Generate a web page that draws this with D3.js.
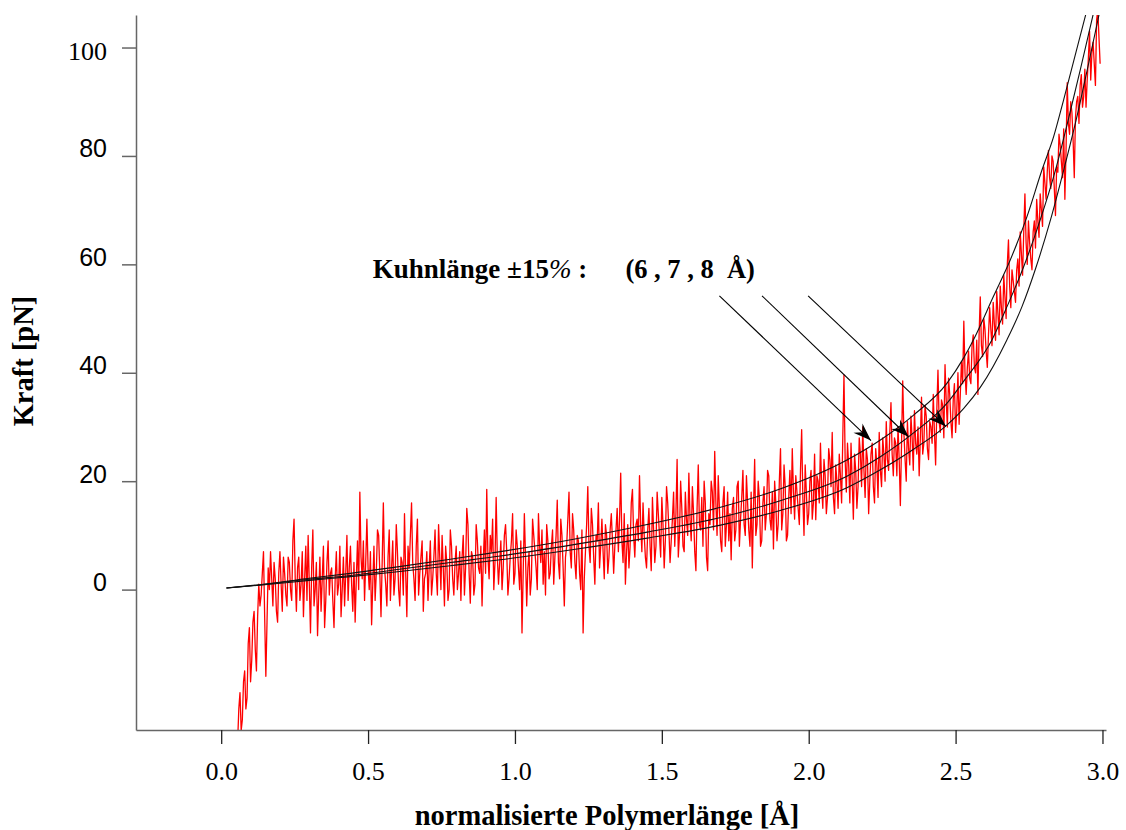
<!DOCTYPE html>
<html>
<head>
<meta charset="utf-8">
<script src="https://cdn.jsdelivr.net/npm/d3@7"></script>
<style>
    body { margin: 0; background: #fff; }
    svg { display: block; }
</style>
</head>
<body>
<svg id="kraft" width="1126" height="830"></svg>
<script>
var xTicks = [0.0, 0.5, 1.0, 1.5, 2.0, 2.5, 3.0];
var yTicks = [0, 20, 40, 60, 80, 100];

// measured trace (red): first sample, sample spacing, force in pN
var traceStart = 0.056;
var traceStep = 0.004;
var traceForce = [
    -28, -22, -19, -26, -24, -17, -15, -22, -20, -10, -7, -17, -13, -6, -4, -11, -15, -5, 1, -3,
    -1, 3, 7, -5, -16, -6, 4, 0, 7, 2, -3, 5, 2, -4, -6, 3, 7, 1, -4, 6,
    3, -1, -3, 6, 5, 0, -2, 9, 13, 2, -4, 4, 6, -2, 1, 7, -5, 2, 8, -2,
    10, 1, -8, 4, 11, -3, 0, 5, -8.5, -1, 6, -4, 2, 8, -7, -2, 5, 9, -1, 3,
    4, -2, -7, 2, 7, -1, 1, 8, -5, 0, 6, -3, 3, 10, -2, 4, 8, 1, -4, 5,
    -6, 2, 9, 0, 18, 6, 2, 9, -2, 5, 13, 4, 0, 7, -6.5, 1, 8, -2, 3, 11,
    10, 3, -5, 5, 16, 4, 1, -3, 6, 11, -2, 4, 9, -1, 2, 12, 7, 0, -3, 6,
    5, -1, 14, 3, -5, 8, 4, 10, 16, 5, 2, -2, 8, 13, -1, 3, 6, 9, -4, 2,
    3, 7, -2, 4, 9, -1, 2, 6, 11, 3, -1, 12, 6, 0, 10, 4, -3, 8, 5, -2,
    0, 11, 8, 2, -1, 5, 8, 0, 3, 7, -2, 6, 10, -1, 4, 15, 12, 3, -2.5, 7,
    6, -1, 1, 12, 9, 4, 3, 8, -3, 5, 11, 3, 18.5, 6, 2, 10, 7, 13, 0, 5,
    17, 6, 1, 5, 9, 0, 4, 10, 12, 7, -1, 2, 6, 9, 14, 1, 3, 11, 8, 4,
    0, 9, -8, 3, 14, 6, -3, 4, 7, -1, 2, 13, 10, 7, 4, 0, 14, 8, 5, 11,
    1, 7, -1, 12, 9, 2, 3, 8, 11, 1, 6, 10, 16.5, 5, 2, 13, 10, 4, -3, 6,
    8, 13, 18, 7, 4, 14, 11, 5, 2, 10, 9, 3, 0, 11, -8, 2, 7, 12, 19, 8,
    5, 15, 12, 6, 1, 10, 9, 16, 4, 8, 13, 7, 2, 12, 10, 3, 6, 11, 14, 9,
    3, 8, 11, 15, 7, 13, 21.5, 9, 5, 14, 1, 7, 12, 4, 8, 16, 18.5, 10, 6, 12,
    13, 9, 21, 12, 7, 16, 10, 6, 4, 11, 15, 8, 3.5, 17, 11, 5, 8, 18, 14, 10,
    6, 17, 12, 4, 9, 19, 16, 11, 5, 9, 13, 18, 8, 14, 24, 6, 10, 20, 15, 8,
    7, 18, 13, 10, 21.5, 13, 9, 19, 14, 7, 3.5, 15, 23, 12, 11, 17, 8, 20, 16, 6,
    3.5, 14, 12, 20, 18, 11, 25.5, 16, 10, 21, 15, 9, 7, 16, 19, 8, 12, 18, 9, 14,
    5.5, 15, 17, 9, 11, 19, 20, 8, 13, 17, 22, 12, 10, 21, 16, 11, 8, 18, 4, 15,
    24, 10, 12, 20, 17, 8, 9, 16, 19, 11, 14, 22, 21, 13, 11, 18, 7.5, 20, 16, 9,
    12, 20, 26, 11, 14, 23, 19, 9, 10, 17, 22, 14, 26, 18, 13, 21, 18, 15, 12, 22,
    29.5, 17, 10, 23, 18, 12, 14, 20, 22, 13, 16, 25, 12.9, 21, 20, 16, 27, 19, 15, 24,
    21, 14, 17, 26, 24, 19, 29, 17, 14, 23, 20, 15, 25, 21, 16, 28, 39.6, 24, 18, 27,
    23, 16, 27, 20, 13, 25, 22, 15, 19, 28, 25, 19, 30, 22, 17, 26, 24, 14, 20, 25,
    27, 19, 16, 26, 23, 17, 29, 22, 19, 28, 25, 20, 31, 24, 22, 29, 34.5, 25, 21, 28,
    27, 21, 30, 24, 15.5, 27, 38.5, 29, 24, 20, 31, 26, 23, 32, 28, 22, 33, 27, 25, 30,
    21, 28, 35.5, 25, 27, 34, 32, 26, 24, 31, 30, 27, 36, 29, 23, 33, 40.5, 31, 29, 35,
    34, 28, 41.5, 35, 30, 39, 36, 31, 28, 35, 38, 29, 33, 40, 30.5, 36, 42, 38, 49.5, 40,
    36, 41, 44, 39, 38, 45, 47, 41, 40, 46, 36, 47, 54, 45, 43, 50, 48, 44, 41, 47,
    52, 48, 45, 53, 49, 46, 55, 51, 47, 56, 52, 49, 58, 54, 50, 60, 64.5, 56, 52, 59,
    57, 55, 53, 59, 61, 56, 66, 62, 58, 66, 73, 64, 60, 68, 64, 61, 59, 66, 68, 63,
    72, 68, 65, 73, 70, 67, 78, 75, 72, 77, 81, 76, 74, 80, 79, 74, 69, 78, 77, 84,
    82, 79, 76, 85, 72, 81, 93.5, 86, 84, 90, 88, 83, 76, 87, 90, 91, 86, 93, 95, 89,
    91, 96, 89, 94, 98, 103, 94, 99, 101, 97, 93, 105, 107, 102, 97
];

// fit curves [x, F] for Kuhn length 6, 7 and 8 Å
var fit6 = [[0.018, 0.3], [0.13, 0.9], [0.3, 2.1], [0.44, 3.0], [0.6, 4.2], [0.78, 5.6],
    [0.95, 7.0], [1.2, 9.3], [1.45, 12.0], [1.7, 15.2], [1.9, 18.5], [2.13, 23.9],
    [2.244, 27.6], [2.357, 32.2], [2.471, 38.1], [2.527, 42.7], [2.561, 46.1], [2.629, 54.1],
    [2.686, 60.8], [2.743, 68.8], [2.794, 77.4], [2.834, 83.6], [2.868, 90.4], [2.945, 106.5]];
var fit7 = [[0.018, 0.3], [0.13, 0.85], [0.3, 1.9], [0.44, 2.6], [0.6, 3.7], [0.78, 5.0],
    [0.95, 6.2], [1.2, 8.3], [1.45, 10.6], [1.7, 13.3], [1.903, 16.4], [2.13, 20.9],
    [2.244, 24.5], [2.357, 28.9], [2.471, 34.4], [2.527, 38.4], [2.624, 46.1], [2.675, 52.2],
    [2.732, 59.6], [2.788, 68.2], [2.840, 77.4], [2.885, 87], [2.925, 96], [2.970, 106.5]];
var fit8 = [[0.018, 0.3], [0.13, 0.8], [0.3, 1.7], [0.44, 2.4], [0.6, 3.3], [0.78, 4.4],
    [0.95, 5.5], [1.2, 7.4], [1.45, 9.5], [1.7, 11.9], [1.903, 14.6], [2.13, 18.8],
    [2.244, 22.1], [2.357, 25.9], [2.471, 30.4], [2.527, 33.4], [2.584, 37.3], [2.675, 46.1],
    [2.726, 52.2], [2.771, 59.0], [2.823, 68.2], [2.868, 77.4], [2.908, 86.1], [2.953, 97.1],
    [2.990, 106.5]];

// annotation arrows (data units)
var arrowFrom = [[1.696, 54.2], [1.841, 54.2], [1.998, 54.2]];
var arrowTo = [[2.212, 27.5], [2.340, 28.2], [2.467, 30.1]];

function KraftChart(id) {
    var self = this;

    self.svg = d3.select('#' + id);
    self.init();
}

KraftChart.prototype.init = function () {
    var self = this;

    var serif = "'Palatino Linotype', 'Book Antiqua', Palatino, 'Liberation Serif', serif";
    var sans = "'Liberation Sans', Arial, sans-serif";

    self.margin = { left: 136, top: 15 };
    self.width = 970;
    self.height = 715;

    var x = d3.scaleLinear().domain([-0.29, 3.012])
        .range([self.margin.left, self.margin.left + self.width]);
    var y = d3.scaleLinear().domain([-25.9, 106])
        .range([self.margin.top + self.height, self.margin.top]);

    var defs = self.svg.append('defs');
    defs.append('clipPath').attr('id', 'plotclip')
        .append('rect')
        .attr('x', self.margin.left).attr('y', self.margin.top)
        .attr('width', self.width).attr('height', self.height);

    defs.append('marker').attr('id', 'head')
        .attr('viewBox', '-19 -8 20 16')
        .attr('markerUnits', 'userSpaceOnUse')
        .attr('markerWidth', 20).attr('markerHeight', 16)
        .attr('refX', 0).attr('refY', 0)
        .attr('orient', 'auto')
        .append('path')
        .attr('d', 'M0,0 L-18,-6.5 L-12,0 L-18,6.5 Z')
        .attr('fill', '#000');

    var plot = self.svg.append('g').attr('clip-path', 'url(#plotclip)');

    // measured trace
    var traceLine = d3.line()
        .x(function (d, i) { return x(traceStart + i * traceStep); })
        .y(function (d) { return y(d); });
    plot.append('path')
        .datum(traceForce)
        .attr('d', traceLine)
        .attr('fill', 'none').attr('stroke', '#ff0000')
        .attr('stroke-width', 1.3).attr('stroke-linejoin', 'round');

    // fits
    var fitLine = d3.line().curve(d3.curveMonotoneX)
        .x(function (d) { return x(d[0]); })
        .y(function (d) { return y(d[1]); });
    plot.selectAll('path.fit')
        .data([fit6, fit7, fit8])
        .enter().append('path')
        .attr('class', 'fit')
        .attr('d', fitLine)
        .attr('fill', 'none').attr('stroke', '#111').attr('stroke-width', 1.1);

    // axes
    var yAxis = d3.axisLeft(y).tickValues(yTicks).tickSize(14).tickSizeOuter(0).tickPadding(15);
    var gy = self.svg.append('g')
        .attr('transform', 'translate(' + self.margin.left + ',0)')
        .call(yAxis);
    gy.select('.domain').attr('stroke', '#666').attr('stroke-width', 1.5);
    gy.selectAll('.tick line').attr('stroke', '#666').attr('stroke-width', 1.5);
    gy.selectAll('.tick text')
        .attr('fill', '#000')
        .attr('font-family', function (d) { return d === 100 ? serif : sans; })
        .attr('font-size', function (d) { return d === 100 ? 26 : 25; })
        .attr('transform', function (d) { return d === 100 ? 'translate(0,4)' : 'translate(0,-7)'; });

    var xAxis = d3.axisBottom(x).tickValues(xTicks).tickFormat(d3.format('.1f'))
        .tickSize(14).tickSizeOuter(0);
    var gx = self.svg.append('g')
        .attr('transform', 'translate(0,' + (self.margin.top + self.height) + ')')
        .call(xAxis);
    gx.select('.domain').attr('stroke', '#666').attr('stroke-width', 1.5);
    gx.selectAll('.tick line').attr('stroke', '#222').attr('stroke-width', 1.3);
    gx.selectAll('.tick text')
        .attr('fill', '#000')
        .attr('font-family', serif).attr('font-size', 26)
        .attr('y', 50).attr('dy', 0);

    // axis titles
    self.svg.append('text')
        .attr('x', 607).attr('y', 825)
        .attr('text-anchor', 'middle')
        .attr('font-family', serif).attr('font-weight', 'bold').attr('font-size', 28.5)
        .text('normalisierte Polymerlänge [Å]');

    self.svg.append('text')
        .attr('transform', 'translate(33,361) rotate(-90)')
        .attr('text-anchor', 'middle')
        .attr('font-family', serif).attr('font-weight', 'bold').attr('font-size', 28.5)
        .text('Kraft [pN]');

    // annotation
    var note = self.svg.append('text')
        .attr('x', x(0.516)).attr('y', y(57.5))
        .attr('font-family', serif).attr('font-weight', 'bold').attr('font-size', 27);
    note.append('tspan').text('Kuhnlänge ±15');
    note.append('tspan').attr('font-weight', 'normal').attr('font-style', 'italic').text('%');
    note.append('tspan').text(' :');

    self.svg.append('text')
        .attr('x', x(1.376)).attr('y', y(57.5))
        .attr('font-family', serif).attr('font-weight', 'bold').attr('font-size', 26.5)
        .style('white-space', 'pre')
        .text('(6 , 7 , 8  Å)');

    self.svg.selectAll('line.arrow')
        .data(arrowFrom)
        .enter().append('line')
        .attr('class', 'arrow')
        .attr('x1', function (d) { return x(d[0]); })
        .attr('y1', function (d) { return y(d[1]); })
        .attr('x2', function (d, i) { return x(arrowTo[i][0]); })
        .attr('y2', function (d, i) { return y(arrowTo[i][1]); })
        .attr('stroke', '#000').attr('stroke-width', 1.1)
        .attr('marker-end', 'url(#head)');
};

var chart = new KraftChart('kraft');
</script>
</body>
</html>
